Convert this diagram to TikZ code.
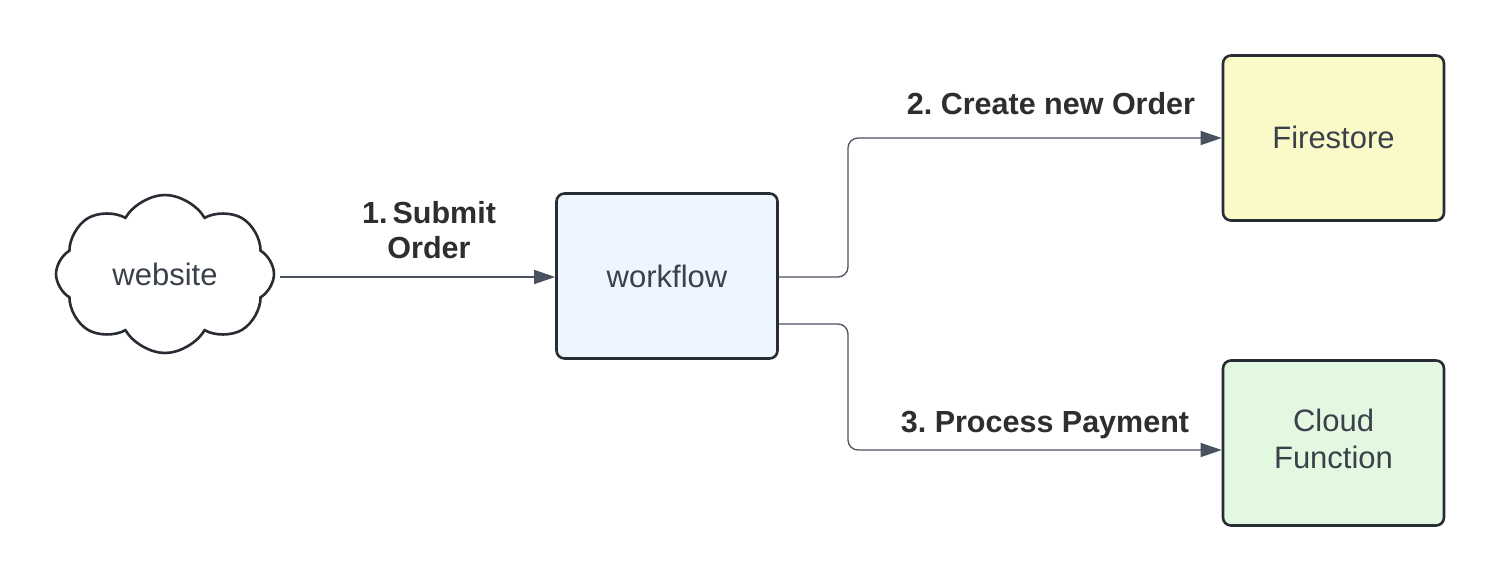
\documentclass[tikz,border=0pt]{standalone}
\usepackage{fontspec}
\setmainfont{Liberation Sans}
\usetikzlibrary{arrows.meta,shapes.symbols}
\frenchspacing
\definecolor{ink}{HTML}{282C33}
\definecolor{txt}{HTML}{3A414A}
\definecolor{lbl}{HTML}{2E2E2E}
\definecolor{wire}{HTML}{4A5260}
\definecolor{wfill}{HTML}{EDF5FF}
\definecolor{ffill}{HTML}{FAFAC8}
\definecolor{cfill}{HTML}{E2F8E0}
\tikzset{
  nodefont/.style={font=\fontsize{31}{37}\selectfont},
  box/.style={draw=ink, line width=2.6pt, rounded corners=8pt, minimum width=221pt, minimum height=165pt, inner sep=0pt, align=center, text=txt, nodefont},
  wirestyle/.style={draw=wire, line width=1.3pt, rounded corners=10pt, -{Triangle[length=21pt,width=14pt]}, color=wire},
  lab/.style={font=\bfseries\fontsize{30.5}{35}\selectfont, text=lbl, align=center, inner sep=0pt},
}
\begin{document}
\begin{tikzpicture}[x=1pt,y=-1pt]
\useasboundingbox[fill=white] (0,0) rectangle (1500,583);
\node[cloud, cloud puffs=8, cloud puff arc=120, aspect=1.35, draw=ink, line width=2.6pt, minimum width=218pt, minimum height=158pt, inner sep=0pt, text=txt, nodefont] (web) at (165,274) {website};
\node[box, fill=wfill] (wf) at (667,276) {workflow};
\node[box, fill=ffill] (fs) at (1333.5,138) {\raisebox{2pt}{Firestore}};
\node[box, fill=cfill] (cf) at (1333.5,443) {\raisebox{4pt}{\begin{tabular}{@{}c@{}}Cloud\\Function\end{tabular}}};
\coordinate (s1) at (280,277);
\coordinate (e1) at (wf.west |- s1);
\coordinate (s2) at (wf.east |- 0,277);
\coordinate (s3) at (wf.east |- 0,324);
\coordinate (e3) at (cf.west |- 0,450);
\draw[wirestyle] (s1) -- (e1);
\draw[wirestyle] (s2) -- (848,277) -- (848,138) -- (fs.west);
\draw[wirestyle] (s3) -- (848,324) -- (848,450) -- (e3);
\node[lab] (l1) at (429,230) {1.\,Submit\\Order};
\node[lab] (l2) at (1051,104) {2. Create new Order};
\node[lab] (l3) at (1045,425) {3. Process Payment};
\end{tikzpicture}
\end{document}
